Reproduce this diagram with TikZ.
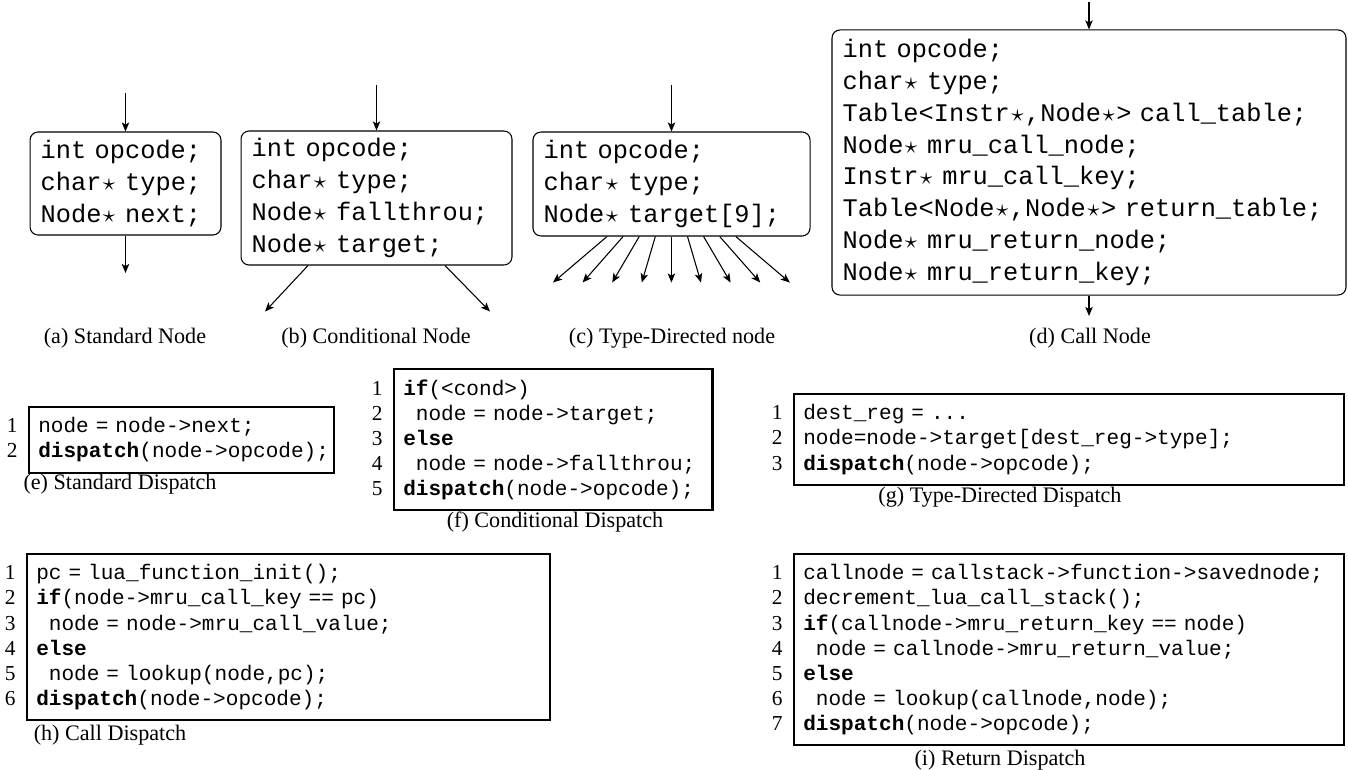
\documentclass[tikz,border=0pt]{standalone}
\usepackage{fontspec}
\setmainfont{Liberation Serif}
\setmonofont{Liberation Mono}
\usepackage{tikz}
\usetikzlibrary{arrows.meta,calc}
\newcommand{\upperfont}{\fontsize{9.5}{11.9}\selectfont\ttfamily}
\newcommand{\codefont}{\fontsize{7.9}{9.4}\selectfont\ttfamily}
\newcommand{\numfont}{\fontsize{8}{9.4}\selectfont}
\newcommand{\capfont}{\fontsize{8.3}{10}\selectfont}
\newcommand{\ptr}{\makebox[0.6em]{$\star$}}
\newcommand{\codeind}{\hphantom{x}}

\begin{document}
\begin{tikzpicture}[
    x=0.375pt, y=-0.375pt,
    >={Stealth[length=3.4pt,width=2.8pt,inset=0.8pt]},
    nbox/.style={draw, rounded corners=3pt, align=left, inner xsep=4pt,
                 inner ysep=0pt, font=\upperfont},
    code/.style={draw, line width=0.9pt, align=left, anchor=north west,
                 inner xsep=3.4pt, inner ysep=3.9pt, font=\codefont},
    num/.style={text width=10pt, align=right, anchor=base east, inner sep=0pt,
                font=\numfont},
    subcap/.style={inner sep=0pt, font=\capfont},
    sig/.style={->, line width=0.4pt},
  ]
  \useasboundingbox (0,0) rectangle (1348,770);

  %% ---- node layouts (top row) ----------------------------------------
  \node[nbox, text width=63.6pt, minimum height=38.6pt] (snode) at (125.5,183.5)
    {int opcode;\\ char\ptr\ type;\\ Node\ptr\ next;};
  \node[nbox, text width=93.6pt, minimum height=50.25pt] (cnode) at (376.5,198)
    {int opcode;\\ char\ptr\ type;\\ Node\ptr\ fallthrou;\\ Node\ptr\ target;};
  \node[nbox, text width=95.9pt, minimum height=39pt] (tnode) at (671.5,184)
    {int opcode;\\ char\ptr\ type;\\ Node\ptr\ target[9];};
  \node[nbox, text width=184.75pt, minimum height=99.4pt] (callnode) at (1089,162.5)
    {int opcode;\\ char\ptr\ type;\\ Table<Instr\ptr,Node\ptr> call\_table;\\
     Node\ptr\ mru\_call\_node;\\ Instr\ptr\ mru\_call\_key;\\
     Table<Node\ptr,Node\ptr> return\_table;\\
     Node\ptr\ mru\_return\_node;\\ Node\ptr\ mru\_return\_key;};

  \coordinate (snin)  at (125.5,93);
  \coordinate (snout) at (125.5,273);
  \coordinate (cnin)  at (376.5,85);
  \coordinate (tnin)  at (671.5,85);
  \coordinate (clin)  at (1089,2);
  \coordinate (clout) at (1089,316);

  \draw[sig] (snin) -- (snode);
  \draw[sig] (snode) -- (snout);
  \draw[sig] (cnin) -- (cnode);
  \draw[sig] ($(cnode.south)+(-68.5,0)$) -- ++(-43,46);
  \draw[sig] ($(cnode.south)+(68.5,0)$) -- ++(45,46);
  \draw[sig] (tnin) -- (tnode);
  \foreach \i in {0,...,8}
    \draw[sig] ($(tnode.south)+(-64.5+16.1*\i,0)$) -- ($(tnode.south)+(-118.5+29.6*\i,46)$);
  \draw[sig] (clin) -- (callnode);
  \draw[sig] (callnode) -- (clout);

  \node[subcap] (capa) at (125,338)  {(a) Standard Node};
  \node[subcap] (capb) at (376,338)  {(b) Conditional Node};
  \node[subcap] (capc) at (672,338)  {(c) Type-Directed node};
  \node[subcap] (capd) at (1090,338) {(d) Call Node};

  %% ---- dispatch code ---------------------------------------------------
  \node[code, text width=107.4pt] (sdisp) at (28,406)
    {node = node->next;\\ \textbf{dispatch}(node->opcode);};
  \node[num] (sdispn) at ($(sdisp.base west)+(-10,0)$) {1\\2};
  \node[subcap] (cape) at (120,484) {(e) Standard Dispatch};

  \node[code, text width=112.6pt] (cdisp) at (393,368)
    {\textbf{if}(<cond>)\\ \codeind node = node->target;\\ \textbf{else}\\
     \codeind node = node->fallthrou;\\ \textbf{dispatch}(node->opcode);};
  \node[num] (cdispn) at ($(cdisp.base west)+(-10,0)$) {1\\2\\3\\4\\5};
  \node[subcap] (capf) at (555,522) {(f) Conditional Dispatch};

  \node[code, text width=199.3pt] (tdisp) at (793,393)
    {dest\_reg = ...\\ node=node->target[dest\_reg->type];\\
     \textbf{dispatch}(node->opcode);};
  \node[num] (tdispn) at ($(tdisp.base west)+(-10,0)$) {1\\2\\3};
  \node[subcap] (capg) at (1000,497) {(g) Type-Directed Dispatch};

  \node[code, text width=189.3pt] (calld) at (26,553)
    {pc = lua\_function\_init();\\ \textbf{if}(node->mru\_call\_key == pc)\\
     \codeind node = node->mru\_call\_value;\\ \textbf{else}\\
     \codeind node = lookup(node,pc);\\ \textbf{dispatch}(node->opcode);};
  \node[num] (calldn) at ($(calld.base west)+(-10,0)$) {1\\2\\3\\4\\5\\6};
  \node[subcap] (caph) at (110,735) {(h) Call Dispatch};

  \node[code, text width=199.3pt] (retd) at (793,553)
    {callnode = callstack->function->savednode;\\ decrement\_lua\_call\_stack();\\
     \textbf{if}(callnode->mru\_return\_key == node)\\
     \codeind node = callnode->mru\_return\_value;\\ \textbf{else}\\
     \codeind node = lookup(callnode,node);\\ \textbf{dispatch}(node->opcode);};
  \node[num] (retdn) at ($(retd.base west)+(-10,0)$) {1\\2\\3\\4\\5\\6\\7};
  \node[subcap] (capi) at (1000,760) {(i) Return Dispatch};

\end{tikzpicture}
\end{document}
